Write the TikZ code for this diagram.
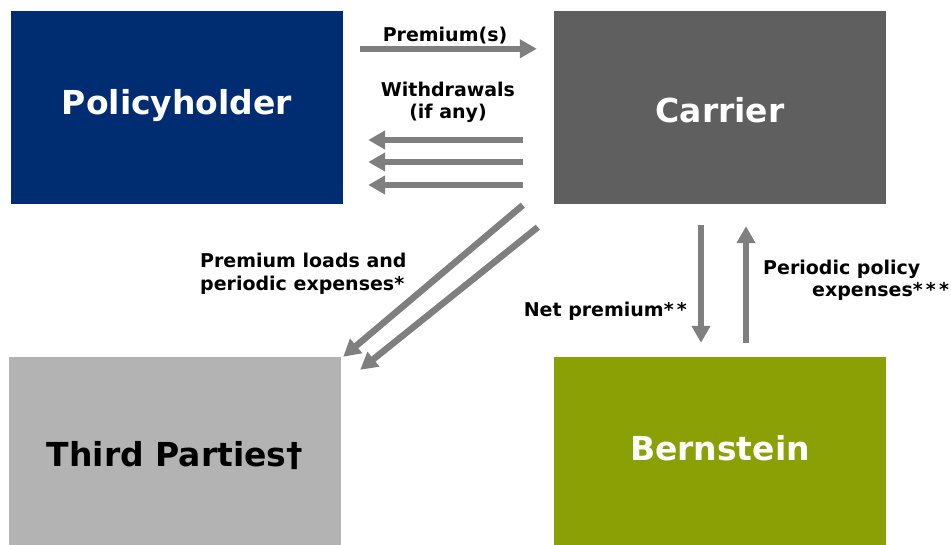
\documentclass[tikz,border=0pt]{standalone}
\usepackage{fontspec}
\setmainfont{DejaVu Sans}
\usepackage{xcolor}
\usetikzlibrary{arrows.meta}

\definecolor{phblue}{RGB}{0,45,114}
\definecolor{cargray}{RGB}{95,95,95}
\definecolor{tpgray}{RGB}{179,179,179}
\definecolor{bgreen}{RGB}{139,160,5}
\definecolor{flowgray}{RGB}{127,127,127}

\tikzset{
  box/.style={minimum width=332pt, inner sep=0pt, font=\bfseries\fontsize{33}{40}\selectfont},
  flow/.style={draw=flowgray, line width=6.5pt, -{Triangle[length=17pt,width=18pt]}},
  lbl/.style={inner sep=0pt, font=\bfseries\fontsize{19}{22.5}\selectfont}
}
\newcommand{\nudge}[2]{\raisebox{#1}[\height][\depth]{#2}} %move text, keep box size

\begin{document}
\begin{tikzpicture}[x=1pt,y=-1pt]
\useasboundingbox (0,0) rectangle (951,545);

\node[box, minimum height=193pt, fill=phblue, text=white] (ph) at (177,107.5) {\nudge{2pt}{Policyholder}};
\node[box, minimum height=193pt, fill=cargray, text=white] (car) at (720,107.5) {\nudge{-3pt}{Carrier}};
\node[box, minimum height=188pt, fill=tpgray, text=black] (tp) at (175,451) {\nudge{-5pt}{Third Parties†}};
\node[box, minimum height=188pt, fill=bgreen, text=white] (bern) at (720,451) {\nudge{3pt}{Bernstein}};

%top row
\draw[flow] ([shift={(17,38)}]ph.north east) -- ([shift={(-17,38)}]car.north west);
\node[lbl, anchor=base] (premlbl) at (445,42) {Premium(s)};
\draw[flow] ([shift={(-31,32.5)}]car.west) -- ([shift={(25,32.5)}]ph.east); %1
\draw[flow] ([shift={(-31,54.5)}]car.west) -- ([shift={(25,54.5)}]ph.east); %2
\draw[flow] ([shift={(-31,77.5)}]car.west) -- ([shift={(25,77.5)}]ph.east); %3
\node[lbl, anchor=base, align=center] (wdlbl) at (448,119) {Withdrawals\\(if any)}; %base = last line

%carrier to third parties
\draw[flow] ([shift={(-31,1)}]car.south west) -- ([shift={(2,0)}]tp.north east);
\draw[flow] ([shift={(-16,23)}]car.south west) -- ([shift={(19,13)}]tp.north east);
\node[lbl, anchor=base west, align=left] (loadlbl) at (200,290.5) {Premium loads and\\periodic expenses*};

%carrier and bernstein
\draw[flow] ([shift={(-19,21)}]car.south) -- ([shift={(-19,-14)}]bern.north);
\draw[flow] ([shift={(26,-14)}]bern.north) -- ([shift={(26,22)}]car.south);
\node[lbl, anchor=base east] (netlbl) at (687,317) {Net premium*\,*};
\node[lbl, anchor=base west, align=left] (explbl) at (763,297) {Periodic policy\\\hspace*{49pt}expenses*\,*\,*};
\end{tikzpicture}
\end{document}
